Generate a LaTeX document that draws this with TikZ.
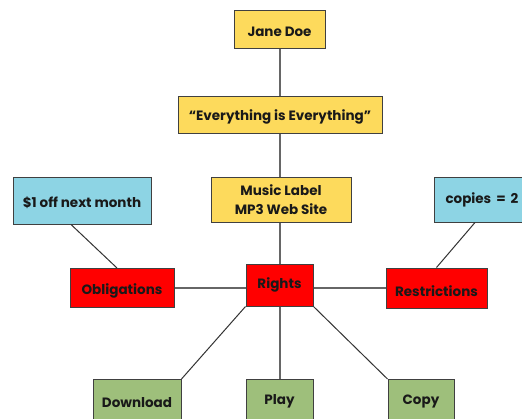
\documentclass[tikz,border=0pt]{standalone}
\usepackage{fontspec}
\setmainfont{Poppins}
% shift the ink of a label without changing its box
\newcommand\shifted[2]{\raisebox{#1}[\height][\depth]{#2}}
\begin{document}
\begin{tikzpicture}[x=1pt,y=-1pt,
  box/.style={draw=black!75, line width=1pt, inner sep=0pt, align=center,
    font=\fontsize{13.5}{19}\selectfont\bfseries, text=black!90},
  ybox/.style={box, fill=yellowfill},
  bbox/.style={box, fill=bluefill},
  rbox/.style={box, fill=red},
  gbox/.style={box, fill=greenfill},
  link/.style={draw=black!60, line width=1.3pt},
  slant/.style={draw=black!80, line width=1pt}]
\definecolor{yellowfill}{HTML}{FDDA5C}
\definecolor{bluefill}{HTML}{8DD4E4}
\definecolor{greenfill}{HTML}{9EBF7B}
\clip (0,0) rectangle (522,418);
\useasboundingbox (0,0) rectangle (522,418);
\fill[white] (0,0) rectangle (522,418);

% top chain
\node[ybox, minimum width=91, minimum height=38] (jane) at (279.5,29) {\shifted{-3pt}{Jane Doe}};
\node[ybox, minimum width=204, minimum height=37] (album) at (280,114.5) {\shifted{-2.5pt}{“Everything is Everything”}};
\node[ybox, minimum width=140, minimum height=45] (label) at (281,199.5) {Music Label\\MP3 Web Site};

% rights row
\node[rbox, minimum width=67, minimum height=42] (rights) at (279.5,285) {Rights};
\node[rbox, minimum width=104, minimum height=39] (oblig) at (122,288) {\shifted{-3pt}{Obligations}};
\node[rbox, minimum width=101, minimum height=40] (restr) at (436.5,288) {\shifted{-3pt}{Restrictions}};

% conditions
\node[bbox, minimum width=138, minimum height=47] (offer) at (82,200.5) {\shifted{-2pt}{\$1 off next month}};
\node[bbox, minimum width=98, minimum height=45, anchor=west] (copies) at (434,199.5) {\makebox[98pt][l]{\hspace{11pt}copies\hspace{5pt}=\hspace{5pt}2}};

% permissions
\node[gbox, minimum width=88, minimum height=46, anchor=north] (download) at (137,379) {Download};
\node[gbox, minimum width=67, minimum height=46, anchor=north] (play) at (279.5,379) {\shifted{1pt}{Play}};
\node[gbox, minimum width=66, minimum height=46, anchor=north] (copy) at (421,379) {\shifted{1pt}{Copy}};

% connectors
\coordinate (spine) at (280,0);
\draw[link] (jane.south -| spine) -- (album.north -| spine);
\draw[link] (album.south -| spine) -- (label.north -| spine);
\draw[link] (label.south -| spine) -- (rights.north -| spine);
\draw[link] (oblig.east) -- (oblig.east -| rights.west);
\draw[link] (rights.east |- restr.west) -- (restr.west);
\draw[link] (rights.south -| spine) -- (play.north -| spine);
\coordinate (o1) at ([xshift=-11pt]offer.south);
\coordinate (c1) at ([xshift=41pt]copies.south west);
\draw[slant] (o1) -- ([xshift=-5pt]oblig.north);
\draw[slant] (c1) -- (restr.north);
\draw[slant] (rights.south west) -- (download.north east);
\draw[slant] (rights.south east) -- (copy.north west);
\end{tikzpicture}
\end{document}
